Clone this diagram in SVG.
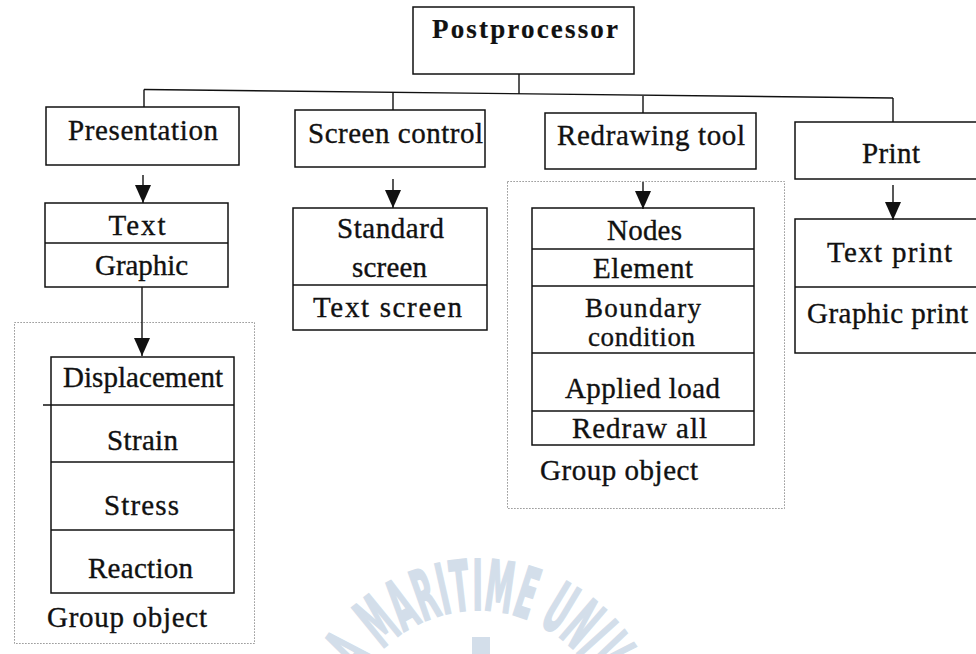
<svg xmlns="http://www.w3.org/2000/svg" width="976" height="654" viewBox="0 0 976 654">
  <style>
    .box { fill: none; stroke: #111; stroke-width: 1.5; }
    .div { stroke: #111; stroke-width: 1.4; }
    .grp { fill: none; stroke: #777; stroke-width: 1; stroke-dasharray: 1.2 1.8; }
    .lbl { font-family: "Liberation Serif", "Times New Roman", serif; font-size: 29px; fill: #111; stroke: #111; stroke-width: 0.35; text-anchor: middle; }
    .lft { text-anchor: start; }
    .ttl { font-weight: bold; font-size: 27px; stroke-width: 0.2; }
    .wire { fill: none; stroke: #111; stroke-width: 1.4; }
    .mark { font-family: "DejaVu Sans Condensed", "DejaVu Sans", sans-serif; font-weight: bold; font-size: 70px; fill: #d3deea; stroke: #d3deea; stroke-width: 2; }
  </style>
  <defs>
    <marker id="arrow" markerUnits="userSpaceOnUse" markerWidth="19" markerHeight="17" refX="18" refY="8" orient="auto">
      <path d="M0,0 L18,8 L0,16 Z" fill="#111"/>
    </marker>
    <path id="wmArc" d="M343,745 A135,135 0 0 1 613,745"/>
  </defs>

  <rect width="976" height="654" fill="#ffffff"/>

  <!-- faint university watermark -->
  <g id="watermark">
    <text class="mark"><textPath href="#wmArc" startOffset="74" textLength="278" lengthAdjust="spacingAndGlyphs">A MARITIME UNIV</textPath></text>
    <rect x="472" y="637" width="18" height="20" fill="#d3deea"/>
  </g>

  <!-- dotted grouping frames -->
  <g id="group-results">
    <rect class="grp" x="14.5" y="322.5" width="240" height="321"/>
    <text class="lbl lft" x="47" y="627" textLength="160">Group object</text>
  </g>
  <g id="group-redraw">
    <rect class="grp" x="507.5" y="181.5" width="277" height="327"/>
    <text class="lbl lft" x="540" y="480" textLength="158">Group object</text>
  </g>

  <!-- connectors -->
  <g id="connectors">
    <path class="wire" d="M519,74 V94"/>
    <path class="wire" d="M144,89.5 L893,98"/>
    <path class="wire" d="M144,89.5 V107"/>
    <path class="wire" d="M393,92.5 V110"/>
    <path class="wire" d="M643,96 V113"/>
    <path class="wire" d="M893,98 V122"/>
    <path class="wire" d="M143,175 V203" marker-end="url(#arrow)"/>
    <path class="wire" d="M142,287 V356" marker-end="url(#arrow)"/>
    <path class="wire" d="M393,179 V208" marker-end="url(#arrow)"/>
    <path class="wire" d="M643,182 V209" marker-end="url(#arrow)"/>
    <path class="wire" d="M893,185 V220" marker-end="url(#arrow)"/>
  </g>

  <g id="postprocessor">
    <rect class="box" x="413" y="7" width="221" height="67"/>
    <text class="lbl ttl" x="525" y="38" textLength="186">Postprocessor</text>
  </g>

  <g id="presentation">
    <rect class="box" x="46" y="107" width="193" height="58"/>
    <text class="lbl" x="143" y="140" textLength="150">Presentation</text>
  </g>

  <g id="screen-control">
    <rect class="box" x="295" y="110" width="190" height="57"/>
    <text class="lbl" x="395.5" y="143" textLength="175">Screen control</text>
  </g>

  <g id="redrawing-tool">
    <rect class="box" x="545" y="113" width="211" height="56"/>
    <text class="lbl" x="651" y="145" textLength="188">Redrawing tool</text>
  </g>

  <g id="print">
    <rect class="box" x="795" y="122" width="190" height="57"/>
    <text class="lbl" x="891" y="163" textLength="58">Print</text>
  </g>

  <g id="presentation-modes">
    <rect class="box" x="45" y="203" width="183" height="84"/>
    <line class="div" x1="45" y1="243" x2="228" y2="243"/>
    <text class="lbl" x="137" y="235" textLength="57">Text</text>
    <text class="lbl" x="141.5" y="275" textLength="93">Graphic</text>
  </g>

  <g id="screen-modes">
    <rect class="box" x="293" y="208" width="194" height="122"/>
    <line class="div" x1="293" y1="285" x2="487" y2="285"/>
    <text class="lbl" x="390.5" y="238" textLength="107">Standard</text>
    <text class="lbl" x="389.5" y="277" textLength="75">screen</text>
    <text class="lbl" x="387.5" y="317" textLength="149">Text screen</text>
  </g>

  <g id="redraw-items">
    <rect class="box" x="532" y="208" width="222" height="237"/>
    <line class="div" x1="532" y1="249" x2="754" y2="249"/>
    <line class="div" x1="532" y1="286" x2="754" y2="286"/>
    <line class="div" x1="532" y1="353" x2="754" y2="353"/>
    <line class="div" x1="532" y1="411" x2="754" y2="411"/>
    <text class="lbl" x="644.5" y="240" textLength="75">Nodes</text>
    <text class="lbl" x="643" y="278" textLength="100">Element</text>
    <text class="lbl" x="643" y="317" textLength="116" style="font-size:27px">Boundary</text>
    <text class="lbl" x="641.5" y="346" textLength="107" style="font-size:27px">condition</text>
    <text class="lbl" x="642.5" y="398" textLength="155">Applied load</text>
    <text class="lbl" x="639.5" y="438" textLength="135">Redraw all</text>
  </g>

  <g id="print-modes">
    <rect class="box" x="795" y="219" width="190" height="134"/>
    <line class="div" x1="795" y1="287" x2="985" y2="287"/>
    <text class="lbl" x="889.5" y="262" textLength="125">Text print</text>
    <text class="lbl lft" x="807" y="323" textLength="161">Graphic print</text>
  </g>

  <g id="result-items">
    <rect class="box" x="51" y="357" width="183" height="236"/>
    <line class="div" x1="43" y1="405" x2="234" y2="405"/>
    <line class="div" x1="51" y1="462" x2="234" y2="462"/>
    <line class="div" x1="51" y1="530" x2="234" y2="530"/>
    <text class="lbl" x="143" y="387" textLength="160">Displacement</text>
    <text class="lbl" x="142.5" y="450" textLength="71">Strain</text>
    <text class="lbl" x="141.5" y="515" textLength="75">Stress</text>
    <text class="lbl" x="140.5" y="578" textLength="105">Reaction</text>
  </g>
</svg>
